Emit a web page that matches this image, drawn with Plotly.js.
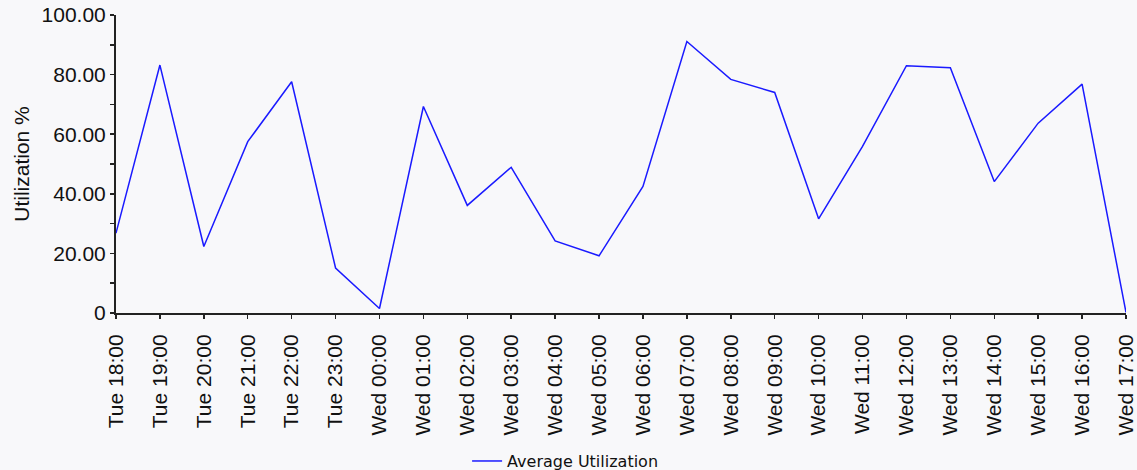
<!DOCTYPE html>
<html>
<head>
<meta charset="utf-8">
<script src="https://cdn.plot.ly/plotly-3.0.1.min.js"></script>
<style>html,body{margin:0;padding:0;background:#f8f8fa;}#chart{width:1137px;height:470px;}</style>
</head>
<body>
<div id="chart"></div>
<script>
const categories = ["Tue 18:00","Tue 19:00","Tue 20:00","Tue 21:00","Tue 22:00","Tue 23:00",
  "Wed 00:00","Wed 01:00","Wed 02:00","Wed 03:00","Wed 04:00","Wed 05:00","Wed 06:00",
  "Wed 07:00","Wed 08:00","Wed 09:00","Wed 10:00","Wed 11:00","Wed 12:00","Wed 13:00",
  "Wed 14:00","Wed 15:00","Wed 16:00","Wed 17:00"];
const avgUtilization = [26.8, 83.2, 22.3, 57.5, 77.6, 15.1, 1.5, 69.3, 36.1, 48.9, 24.2, 19.2,
  42.5, 91.1, 78.4, 74.0, 31.6, 55.9, 83.0, 82.3, 44.1, 63.7, 76.8, 0.2];
const yTickVals = [0, 20, 40, 60, 80, 100];
const yTickText = ["0", "20.00", "40.00", "60.00", "80.00", "100.00"];
const seriesName = "Average Utilization";

const font = {family: "Liberation Sans, Arial, sans-serif", size: 21, color: "#111"};

const data = [{
  type: "scatter", mode: "lines", x: categories, y: avgUtilization, name: seriesName,
  line: {color: "#1a1aff", width: 1.5}, showlegend: true
}];

const layout = {
  width: 1137, height: 470,
  paper_bgcolor: "#f8f8fa", plot_bgcolor: "#f8f8fa",
  margin: {l: 116, r: 11, t: 15, b: 157, autoexpand: false},
  font: font,
  showlegend: true,
  legend: {orientation: "h", xref: "container", x: 0.497, xanchor: "center",
    yref: "container", y: 0.019, yanchor: "middle",
    font: {family: "DejaVu Sans, Verdana, sans-serif", size: 16, color: "#111"},
    bgcolor: "rgba(0,0,0,0)", itemwidth: 30},
  xaxis: {
    type: "category", range: [0, categories.length - 1], showgrid: false, zeroline: false,
    showline: true, linecolor: "#222", linewidth: 2, ticks: "outside", ticklen: 4, tickcolor: "#222",
    tickwidth: 1.5, tickangle: -90, tickfont: font, ticklabelstandoff: 7, fixedrange: true
  },
  xaxis2: {
    type: "category", overlaying: "x", categoryorder: "array", categoryarray: categories,
    range: [0, categories.length - 1], showgrid: false, zeroline: false, showline: false,
    ticks: "inside", ticklen: 3, tickcolor: "#222", tickwidth: 1.5, showticklabels: false,
    tickvals: categories, anchor: "y"
  },
  yaxis: {
    range: [0, 100], showgrid: false, zeroline: false, showline: true, linecolor: "#222",
    linewidth: 2, ticks: "outside", ticklen: 4, tickcolor: "#222", tickwidth: 1.5,
    tickvals: yTickVals, ticktext: yTickText, tickfont: font,
    minor: {ticks: "outside", ticklen: 4, tickcolor: "#222", tickwidth: 1.5, dtick: 10, showgrid: false},
    title: {text: "Utilization %", font: font, standoff: 6}, fixedrange: true
  },
  yaxis2: {
    range: [0, 100], overlaying: "y", anchor: "x", side: "left", showgrid: false, zeroline: false,
    showline: false, ticks: "inside", ticklen: 3, tickcolor: "#222", tickwidth: 1.5,
    tickvals: [0,10,20,30,40,50,60,70,80,90,100], showticklabels: false
  }
};

Plotly.newPlot("chart", data, layout, {displayModeBar: false, staticPlot: true});
</script>
</body>
</html>
